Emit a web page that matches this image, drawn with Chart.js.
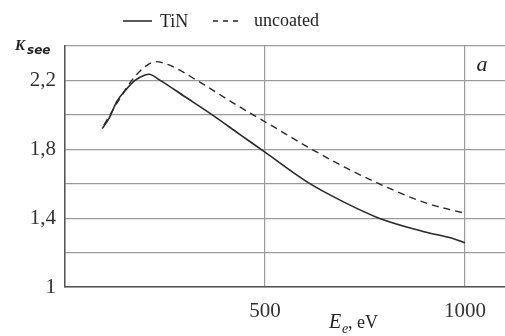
<!DOCTYPE html>
<html>
<head>
<meta charset="utf-8">
<script src="https://cdn.jsdelivr.net/npm/chart.js@4"></script>
<style>
html,body{margin:0;padding:0;background:#fff;}
#wrap{width:505px;height:336px;position:relative;}
</style>
</head>
<body>
<div id="wrap"><canvas id="c" width="505" height="336"></canvas></div>
<script>
// Data
const tinEnergy = [93,110,130,152,175,200,210,235,300,368,435,500,608,700,785,900,968,1000];
const tinK      = [1.92,1.98,2.08,2.145,2.20,2.232,2.236,2.205,2.105,2.00,1.89,1.783,1.606,1.49,1.40,1.32,1.283,1.257];
const uncEnergy = [97,110,135,168,200,227,260,335,420,485,500,617,700,785,900,1000];
const uncK      = [1.94,1.99,2.087,2.203,2.28,2.309,2.29,2.193,2.07,1.98,1.96,1.80,1.695,1.60,1.49,1.428];
const yTickValues = [1,1.2,1.4,1.6,1.8,2.0,2.2,2.4];
const yTickLabels = ['1','','1,4','','1,8','','2,2',''];
const xTickValues = [0,500,1000];
const xTickLabels = ['','500','1000'];
const seriesNames = ['TiN','uncoated'];

const toPts = (xs, ys) => xs.map((x, i) => ({x: x, y: ys[i]}));

const textPlugin = {
  id: 'texts',
  afterDraw(chart) {
    const ctx = chart.ctx;
    ctx.save();
    ctx.fillStyle = '#222';
    ctx.strokeStyle = '#222';
    // legend
    ctx.lineWidth = 1.5;
    ctx.beginPath(); ctx.moveTo(123, 21); ctx.lineTo(152, 21); ctx.stroke();
    ctx.setLineDash([5, 5]);
    ctx.beginPath(); ctx.moveTo(213, 21); ctx.lineTo(242, 21); ctx.stroke();
    ctx.setLineDash([]);
    ctx.font = '18px "Liberation Serif"';
    ctx.textBaseline = 'alphabetic';
    ctx.textAlign = 'left';
    ctx.fillText(seriesNames[0], 160, 27);
    ctx.fillText(seriesNames[1], 254, 26);
    // y title
    ctx.font = 'italic bold 15px "Liberation Serif"';
    ctx.fillText('K', 15, 50);
    ctx.font = 'italic bold 12px "DejaVu Sans"';
    ctx.fillText('see', 27, 54);
    // x title
    ctx.font = 'italic 20px "Liberation Serif"';
    ctx.fillText('E', 329, 328);
    ctx.font = 'italic 14px "Liberation Serif"';
    ctx.fillText('e', 342, 333);
    ctx.font = '18px "Liberation Serif"';
    ctx.fillText(', eV', 348, 328);
    // panel letter
    ctx.font = 'italic 22px "Liberation Serif"';
    ctx.textAlign = 'center';
    ctx.fillText('a', 482, 71);
    ctx.restore();
  }
};

new Chart(document.getElementById('c'), {
  type: 'line',
  data: {
    datasets: [
      {label: seriesNames[0], data: toPts(tinEnergy, tinK), borderColor: '#2a2a2a', borderWidth: 1.6,
       pointRadius: 0, cubicInterpolationMode: 'monotone', fill: false},
      {label: seriesNames[1], data: toPts(uncEnergy, uncK), borderColor: '#2a2a2a', borderWidth: 1.4,
       borderDash: [7, 5], pointRadius: 0, cubicInterpolationMode: 'monotone', fill: false}
    ]
  },
  options: {
    responsive: false,
    animation: false,
    events: [],
    layout: {padding: {top: 46, right: 0, left: 0, bottom: 0}},
    plugins: {legend: {display: false}, tooltip: {enabled: false}},
    scales: {
      x: {
        type: 'linear', min: 0, max: 1100,
        afterBuildTicks(s) { s.ticks = xTickValues.map(v => ({value: v})); },
        afterFit(s) { s.height = 49; s.paddingRight = 0; s.paddingLeft = 0; },
        border: {color: '#555', width: 1.5},
        grid: {color: '#9a9a9a', lineWidth: 1.2, drawTicks: false},
        ticks: {
          padding: 12, color: '#333', maxRotation: 0, autoSkip: false,
          font: {family: '"Liberation Serif"', size: 21},
          callback: (v) => { const i = xTickValues.indexOf(v); return i >= 0 ? xTickLabels[i] : ''; }
        }
      },
      y: {
        type: 'linear', min: 1, max: 2.4,
        afterBuildTicks(s) { s.ticks = yTickValues.map(v => ({value: v})); },
        afterFit(s) { s.width = 65; },
        border: {color: '#555', width: 1.5},
        grid: {color: '#9a9a9a', lineWidth: 1.2, drawTicks: false},
        ticks: {
          padding: 9, color: '#333', autoSkip: false,
          font: {family: '"Liberation Serif"', size: 21},
          callback: (v) => {
            const i = yTickValues.findIndex(t => Math.abs(t - v) < 1e-6);
            return i >= 0 ? yTickLabels[i] : '';
          }
        }
      }
    }
  },
  plugins: [textPlugin]
});
</script>
</body>
</html>
